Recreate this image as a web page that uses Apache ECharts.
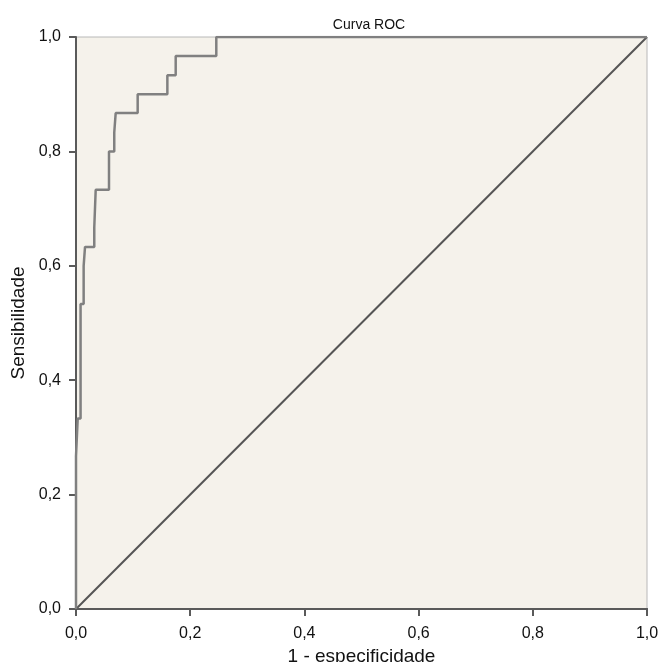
<!DOCTYPE html>
<html>
<head>
<meta charset="UTF-8">
<script src="https://cdn.jsdelivr.net/npm/echarts@6/dist/echarts.min.js"></script>
<style>
	html, body { margin: 0; padding: 0; background: #fff; }
	#main { width: 659px; height: 662px; }
</style>
</head>
<body>
	<div id="main"></div>
<script type="text/javascript">
// ROC curve corners (1 - especificidade, sensibilidade)
var rocFpr = [0, 0, 0.003, 0.003, 0.008, 0.008, 0.0134, 0.0134, 0.0158, 0.0158, 0.032, 0.032,
	0.0345, 0.0345, 0.0578, 0.0578, 0.067, 0.067, 0.0695, 0.0695, 0.108, 0.108, 0.16, 0.16,
	0.1746, 0.1746, 0.2457, 0.2457, 1];
var rocTpr = [0, 0.267, 0.267, 0.333, 0.333, 0.533, 0.533, 0.6, 0.6, 0.633, 0.633, 0.667,
	0.667, 0.733, 0.733, 0.8, 0.8, 0.833, 0.833, 0.867, 0.867, 0.9, 0.9, 0.933,
	0.933, 0.967, 0.967, 1, 1];
// reference line
var diagX = [0, 1];
var diagY = [0, 1];

function pairs(xs, ys) {
	var out = [];
	for (var i = 0; i < xs.length; i++) out.push([xs[i], ys[i]]);
	return out;
}
function comma(v) {
	return v.toFixed(1).replace('.', ',');
}

var font = 'Liberation Sans, Arial, Helvetica, sans-serif';
var dark = '#5a5a5a';

var myChart = echarts.init(document.getElementById('main'));
var option = {
	animation: false,
	title: {
		text: 'Curva ROC',
		left: 364,
		textAlign: 'center',
		top: 13,
		textStyle: { fontFamily: font, fontSize: 14, fontWeight: 'normal', color: '#111' }
	},
	grid: {
		left: 76, top: 37, width: 571, height: 572,
		outerBoundsMode: 'none',
		containLabel: false,
		show: true,
		backgroundColor: '#f5f2eb',
		borderColor: '#b8b8b8',
		borderWidth: 1
	},
	xAxis: [{
		type: 'value', min: 0, max: 1, interval: 0.2,
		name: '1 - especificidade',
		nameLocation: 'middle',
		nameGap: 36,
		nameTextStyle: { fontFamily: font, fontSize: 19, color: '#111' },
		axisLine: { show: true, onZero: false, lineStyle: { color: dark, width: 2 } },
		axisTick: { show: true, length: 7, lineStyle: { color: dark, width: 2 } },
		axisLabel: { fontFamily: font, fontSize: 16, color: '#111', margin: 17, formatter: comma },
		splitLine: { show: false }
	}, {
		type: 'value', min: 0, max: 1, position: 'top',
		axisLine: { show: true, lineStyle: { color: dark, width: 2 } },
		axisTick: { show: false }, axisLabel: { show: false }, splitLine: { show: false }
	}],
	yAxis: {
		type: 'value', min: 0, max: 1, interval: 0.2,
		name: 'Sensibilidade',
		nameLocation: 'middle',
		nameGap: 48,
		nameTextStyle: { fontFamily: font, fontSize: 19, color: '#111' },
		axisLine: { show: true, onZero: false, lineStyle: { color: dark, width: 2 } },
		axisTick: { show: true, length: 7, lineStyle: { color: dark, width: 2 } },
		axisLabel: { fontFamily: font, fontSize: 16, color: '#111', margin: 15, formatter: comma },
		splitLine: { show: false }
	},
	series: [{
		type: 'line',
		data: pairs(diagX, diagY),
		showSymbol: false,
		lineStyle: { color: '#555', width: 2 },
		z: 2
	}, {
		type: 'line',
		data: pairs(rocFpr, rocTpr),
		showSymbol: false,
		lineStyle: { color: '#808080', width: 2.5 },
		z: 3
	}]
};
myChart.setOption(option);
</script>
</body>
</html>
